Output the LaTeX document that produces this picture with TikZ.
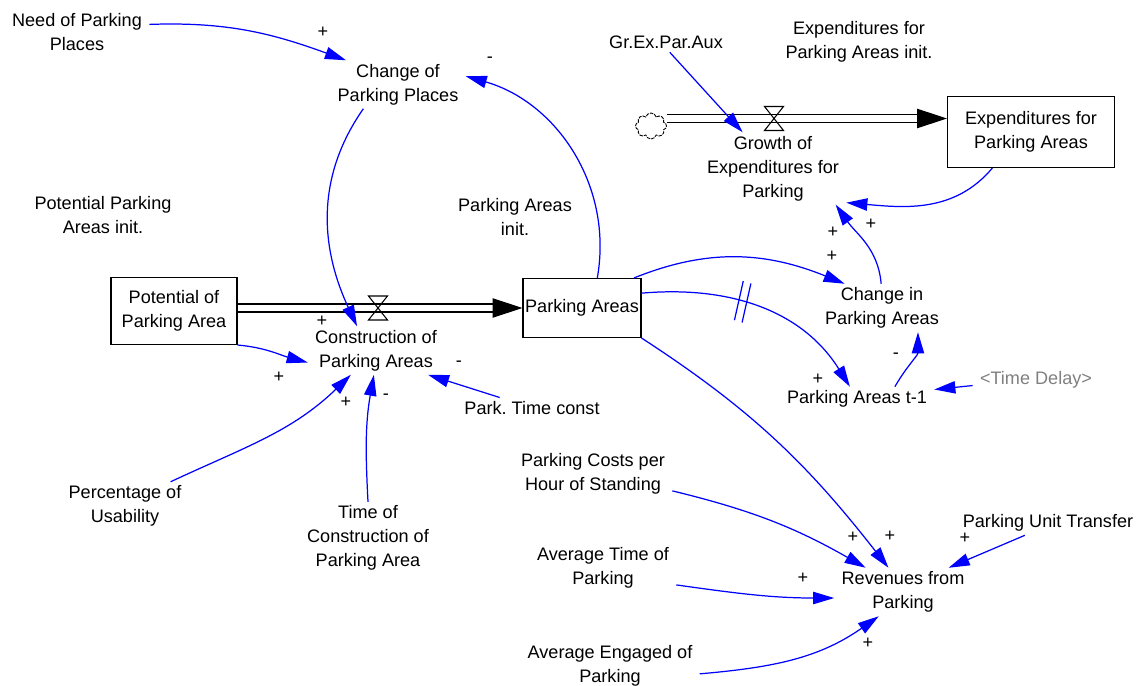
\documentclass[tikz,border=0pt]{standalone}
\usepackage{fontspec}
\setmainfont{Liberation Sans}
\usetikzlibrary{arrows.meta, shapes.symbols, decorations.markings}

\newcommand{\valvula}[1]{%
  \draw[line width=0.6pt, shift={(#1)}]
    (-0.19,0.24) -- (0.19,0.24) -- (-0.19,-0.24) -- (0.19,-0.24) -- cycle;}

\begin{document}
\begin{tikzpicture}[
    font=\fontsize{10.3}{13.6}\selectfont,
    estoque/.style={
        draw,
        line width=0.6pt,
        align=center,
        inner sep=1pt
    },
    variavel/.style={
        align=center,
        inner xsep=4pt,
        inner ysep=2pt
    },
    sombra/.style={
        variavel,
        text=black!50
    },
    sinal/.style={
        inner sep=1pt
    },
    elo/.style={
        -{Triangle[length=12pt,width=7pt]},
        blue,
        line width=0.7pt
    },
    cano/.style={
        -{Triangle[length=17pt,width=11pt]},
        draw=black,
        double=white,
        double distance=3.8pt,
        line width=0.7pt
    },
    atraso/.style={
        postaction={decorate},
        decoration={markings, mark=at position 0.42 with {
            \draw[-, blue, line width=0.7pt] (-0.04,-0.4) -- (-0.10,0.4);
            \draw[-, blue, line width=0.7pt] (0.12,-0.4) -- (0.06,0.4);
        }}
    }
]

\useasboundingbox (0,0) rectangle (22.86,-13.72);

\node[variavel] (need) at (1.54,-0.64) {Need of Parking\\Places};

\node[variavel] (changeplaces) at (7.96,-1.69) {Change of\\Parking Places};

\node[variavel] (potinit) at (2.06,-4.30) {Potential Parking\\Areas init.};

\node[variavel] (parkinit) at (10.30,-4.34) {Parking Areas\\init.};

\node[estoque, minimum width=2.52cm, minimum height=1.34cm] (potential) at (3.48,-6.22)
{Potential of\\Parking Area};

\node[variavel] (construction) at (7.52,-7.01) {Construction of\\Parking Areas};

\node[estoque, minimum width=2.36cm, minimum height=1.18cm] (parkingareas) at (11.64,-6.16)
{Parking Areas};

\coordinate (valve1) at (7.56,-6.16);

\node[variavel] (grexpar) at (13.32,-0.84) {Gr.Ex.Par.Aux};

\node[variavel] (expinit) at (17.18,-0.84) {Expenditures for\\Parking Areas init.};

\node[cloud, cloud puffs=8, draw, line width=0.5pt, dash pattern=on 2pt off 0.6pt,
      minimum width=0.62cm, minimum height=0.52cm, inner sep=0pt] (nuvem) at (13.02,-2.52) {};

\coordinate (valve2) at (15.48,-2.37);

\node[estoque, minimum width=3.34cm, minimum height=1.42cm] (expbox) at (20.62,-2.64)
{Expenditures for\\Parking Areas};

\node[variavel] (growth) at (15.46,-3.37) {Growth of\\Expenditures for\\Parking};

\node[variavel] (changeareas) at (17.64,-6.16) {Change in\\Parking Areas};

\node[variavel] (areast1) at (17.14,-7.98) {Parking Areas t-1};

\node[sombra] (timedelay) at (20.72,-7.60) {<Time Delay>};

\node[variavel] (parktime) at (10.64,-8.16) {Park.\ Time const};

\node[variavel] (percentage) at (2.50,-10.12) {Percentage of\\Usability};

\node[variavel] (timeconst) at (7.36,-10.76) {Time of\\Construction of\\Parking Area};

\node[variavel] (costs) at (11.86,-9.48) {Parking Costs per\\Hour of Standing};

\node[variavel] (avgtime) at (12.06,-11.36) {Average Time of\\Parking};

\node[variavel] (engaged) at (12.20,-13.32) {Average Engaged of\\Parking};

\node[variavel] (revenues) at (18.06,-11.84) {Revenues from\\Parking};

\node[variavel] (unit) at (20.96,-10.46) {Parking Unit Transfer};

% fluxos
\draw[cano] (potential.east |- valve1) -- (parkingareas.west |- valve1);
\valvula{valve1}

\draw[cano] (nuvem.east |- valve2) -- (expbox.west |- valve2);
\valvula{valve2}

% ligacoes
\draw[elo] (need.6) to[out=2, in=160] (changeplaces.155);
\draw[elo] (parkingareas.63) to[out=80, in=-16] (changeplaces.7);
\draw[elo] (changeplaces.-145) to[out=-125, in=115] (construction.128);
\draw[elo] (potential.south east) to[out=-5, in=165] (construction.190);
\draw[elo] (percentage.28) to[out=25, in=-136] (construction.224);
\draw[elo] (timeconst.north) to[out=93, in=-100] (construction.265);
\draw[elo] (parktime.162) -- (construction.-25);
\draw[elo] (grexpar.-70) -- (growth.130);
\draw[elo] (expbox.223) to[out=-130, in=-5] (growth.-25);
\draw[elo] (changeareas.92) to[out=95, in=-55] (growth.-30);
\draw[elo] (parkingareas.30) to[out=22, in=158] (changeareas.147);
\draw[elo, atraso] (parkingareas.14) to[out=5, in=122] (areast1.120);
\draw[elo] (areast1.18) to[out=60, in=-90] (changeareas.-34);
\draw[elo] (timedelay.185) -- (areast1.7);
\draw[elo] (parkingareas.south east) to[out=-33, in=128] (revenues.121);
\draw[elo] (costs.-12) to[bend left=8] (revenues.147);
\draw[elo] (avgtime.-13) to[out=-8, in=180] (revenues.185);
\draw[elo] (engaged.-5) to[out=5, in=-145] (revenues.225);
\draw[elo] (unit.208) -- (revenues.28);

% sinais
\node[sinal] (s1) at (6.46,-0.64) {+};
\node[sinal] (s2) at (9.80,-1.20) {-};
\node[sinal] (s3) at (6.44,-6.42) {+};
\node[sinal] (s4) at (5.58,-7.54) {+};
\node[sinal] (s5) at (6.92,-8.04) {+};
\node[sinal] (s6) at (7.72,-7.94) {-};
\node[sinal] (s7) at (9.18,-7.28) {-};
\node[sinal] (s8) at (17.42,-4.48) {+};
\node[sinal] (s9) at (16.66,-4.64) {+};
\node[sinal] (s10) at (16.64,-5.12) {+};
\node[sinal] (s11) at (16.36,-7.58) {+};
\node[sinal] (s12) at (17.92,-7.12) {-};
\node[sinal] (s13) at (17.06,-10.74) {+};
\node[sinal] (s14) at (17.80,-10.72) {+};
\node[sinal] (s15) at (19.30,-10.76) {+};
\node[sinal] (s16) at (16.06,-11.56) {+};
\node[sinal] (s17) at (17.36,-12.86) {+};

\end{tikzpicture}
\end{document}
